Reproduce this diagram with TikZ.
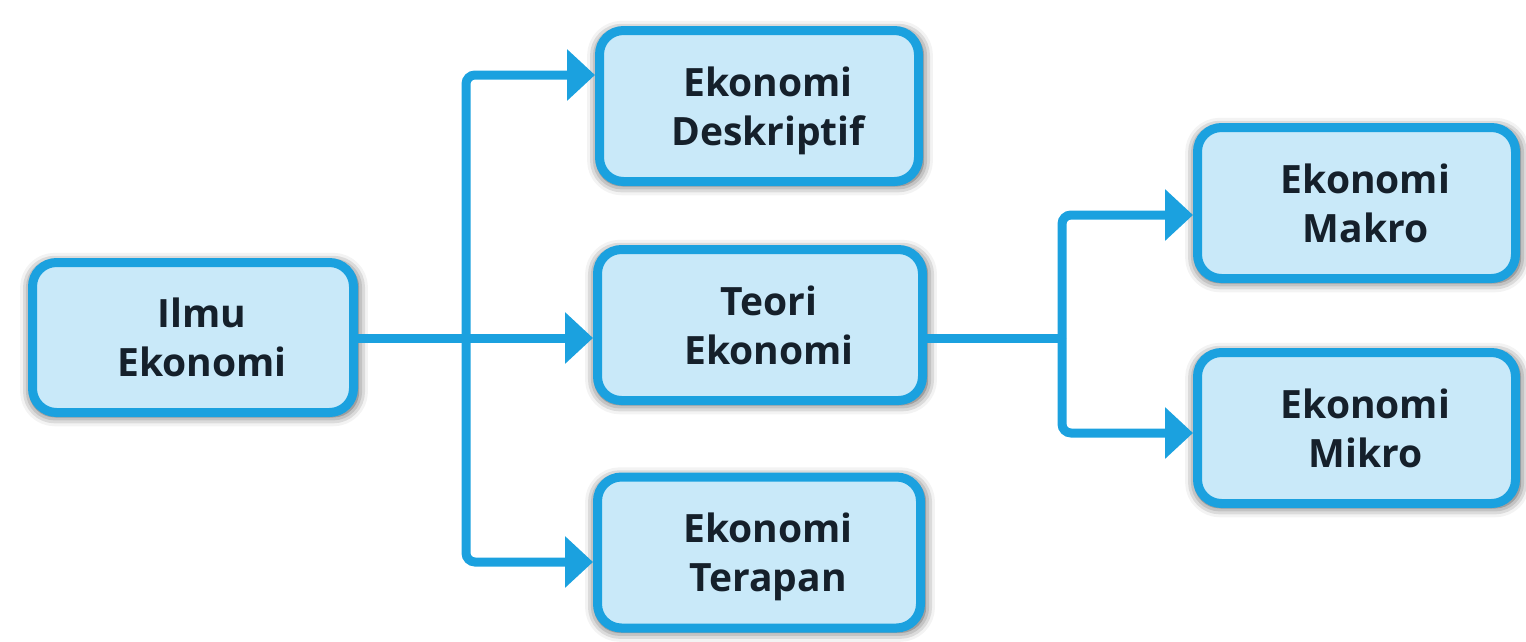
\documentclass[tikz,border=0pt]{standalone}
\usepackage{fontspec}
\setmainfont{Open Sans}
\usetikzlibrary{arrows.meta,shadows.blur}
\definecolor{bordc}{HTML}{1BA1DF}
\definecolor{fillc}{HTML}{C9E9F9}
\definecolor{txtc}{HTML}{15202B}
\newsavebox{\twobox}
\newcommand{\twolines}[2]{\sbox{\twobox}{\begin{tabular}{@{}c@{}}#1\\#2\end{tabular}}%
  \hspace*{18pt}\raisebox{\dimexpr-0.5\ht\twobox+0.5\dp\twobox-5pt\relax}[0pt][0pt]{\usebox{\twobox}}}
\tikzset{
  box/.style={draw=bordc, line width=9pt, fill=fillc, rounded corners=24pt,
    minimum width=319pt, minimum height=151pt, text=txtc,
    font=\fontsize{39}{49}\selectfont\bfseries,
    blur shadow={shadow xshift=1pt, shadow yshift=-2pt, shadow blur radius=10pt, shadow opacity=75, shadow scale=1.02}},
  conn/.style={draw=bordc, line width=9pt},
  arr/.style={-{Triangle[length=28pt,width=50pt]}},
}
\begin{document}
\begin{tikzpicture}[x=1pt,y=-1pt]
\useasboundingbox (0,0) rectangle (1526,641);
\node[box, minimum width=321pt, minimum height=150pt] (ilmu) at (193,337.5) {\twolines{Ilmu}{Ekonomi}};
\node[box] (desk) at (759,106) {\twolines{Ekonomi}{Deskriptif}};
\node[box, minimum width=325pt] (teori) at (760,325) {\twolines{Teori}{Ekonomi}};
\node[box, minimum width=323pt] (terapan) at (759,552.5) {\twolines{Ekonomi}{Terapan}};
\node[box, minimum width=318pt] (makro) at (1356.5,203) {\twolines{Ekonomi}{Makro}};
\node[box, minimum width=318pt] (mikro) at (1356.5,428) {\twolines{Ekonomi}{Mikro}};
\coordinate (j1) at (466,338);
\coordinate (j2) at (1062,338);
\draw[conn, arr] (ilmu.east |- j1) -- (teori.west |- j1);
\draw[conn, arr, rounded corners=9pt] (j1) |- (desk.west |- 0,75);
\draw[conn, arr, rounded corners=9pt] (j1) |- (terapan.west |- 0,562);
\draw[conn] (teori.east |- j2) -- (j2);
\draw[conn, arr, rounded corners=9pt] (j2) |- (makro.west |- 0,215);
\draw[conn, arr, rounded corners=9pt] (j2) |- (mikro.west |- 0,433);
\end{tikzpicture}
\end{document}
